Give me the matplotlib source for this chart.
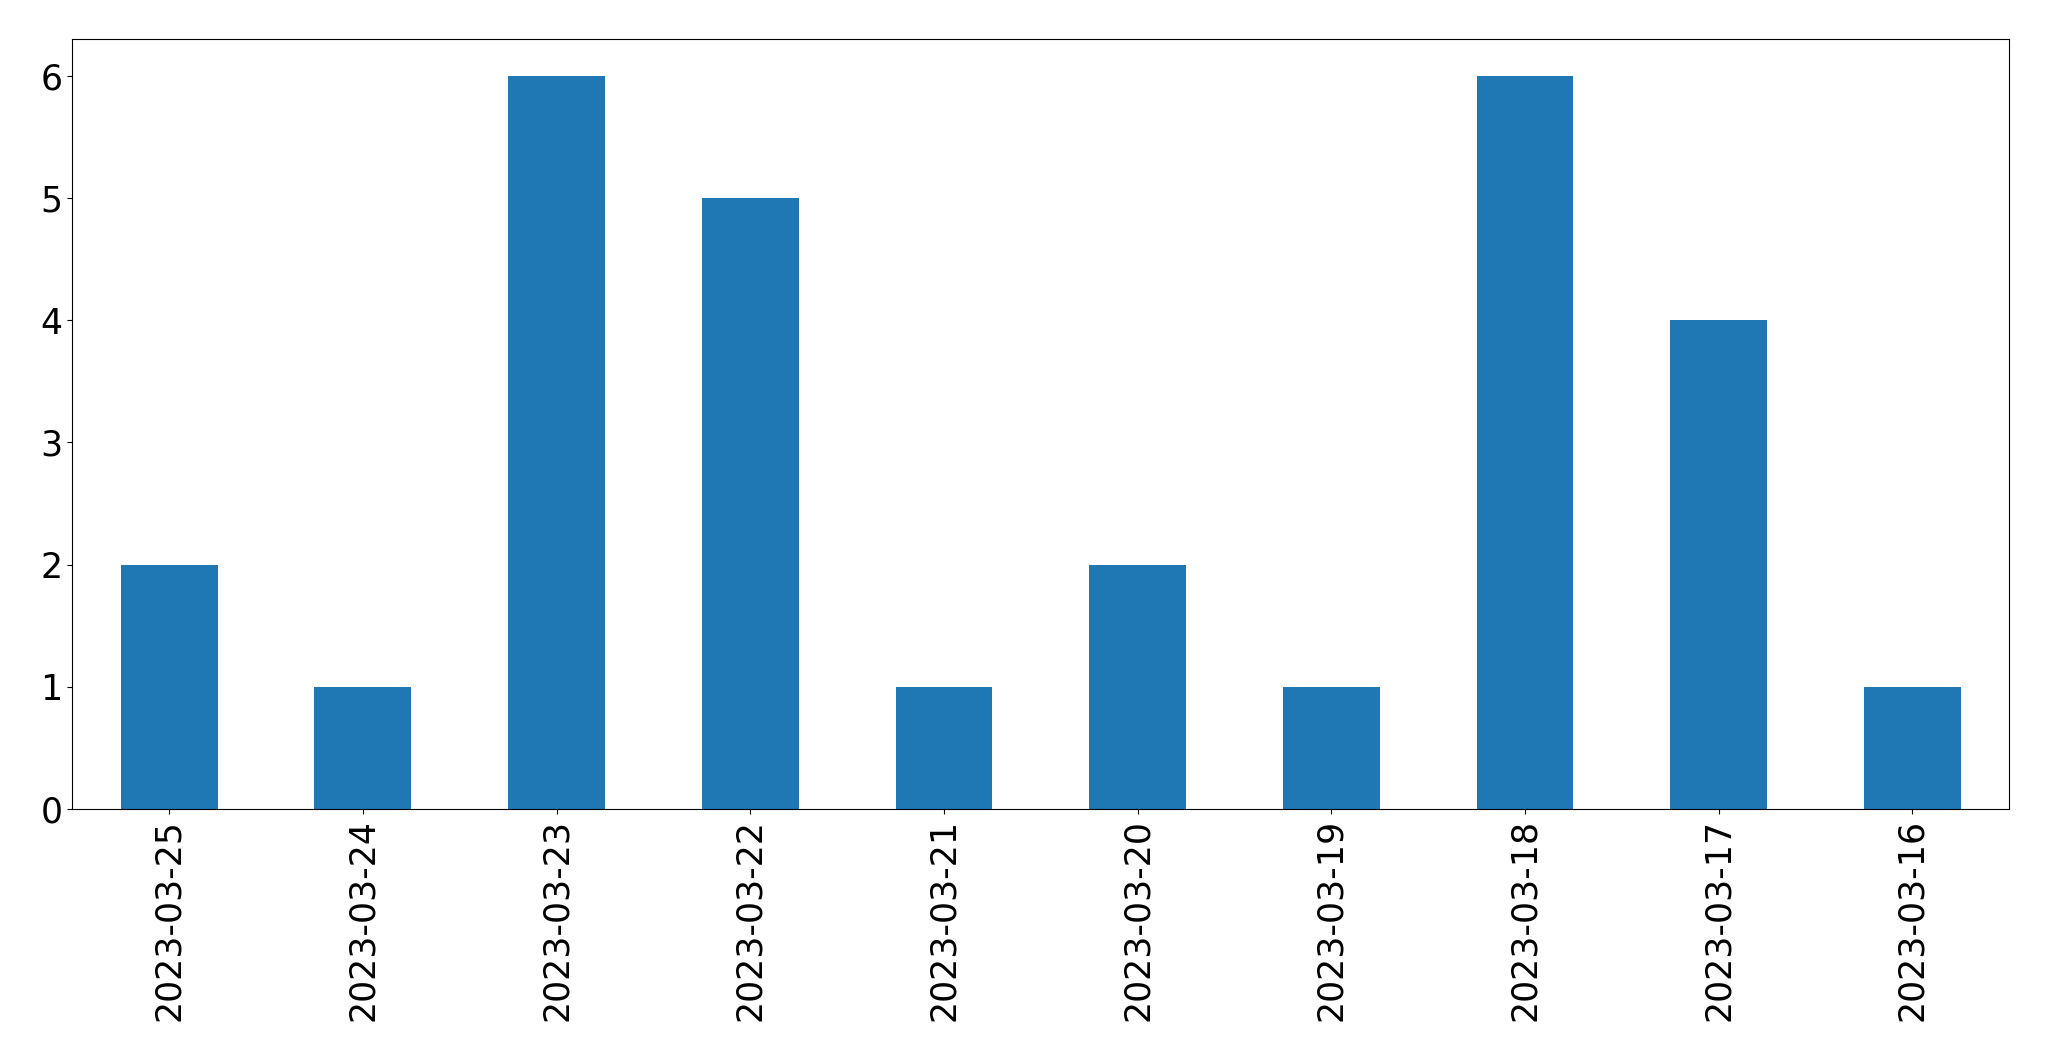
import matplotlib.pyplot as plt
import pandas as pd

# counts per day
dates = ['2023-03-25', '2023-03-24', '2023-03-23', '2023-03-22', '2023-03-21',
         '2023-03-20', '2023-03-19', '2023-03-18', '2023-03-17', '2023-03-16']
counts = [2, 1, 6, 5, 1, 2, 1, 6, 4, 1]

s = pd.Series(counts, index=dates)

fig, ax = plt.subplots(figsize=(20.49, 10.61), dpi=100)
s.plot(kind='bar', ax=ax, color='#1f77b4')
ax.tick_params(axis='both', labelsize=25)
fig.subplots_adjust(left=0.0353, right=0.9806, bottom=0.2375, top=0.963)

plt.savefig('out.png', dpi=100)
